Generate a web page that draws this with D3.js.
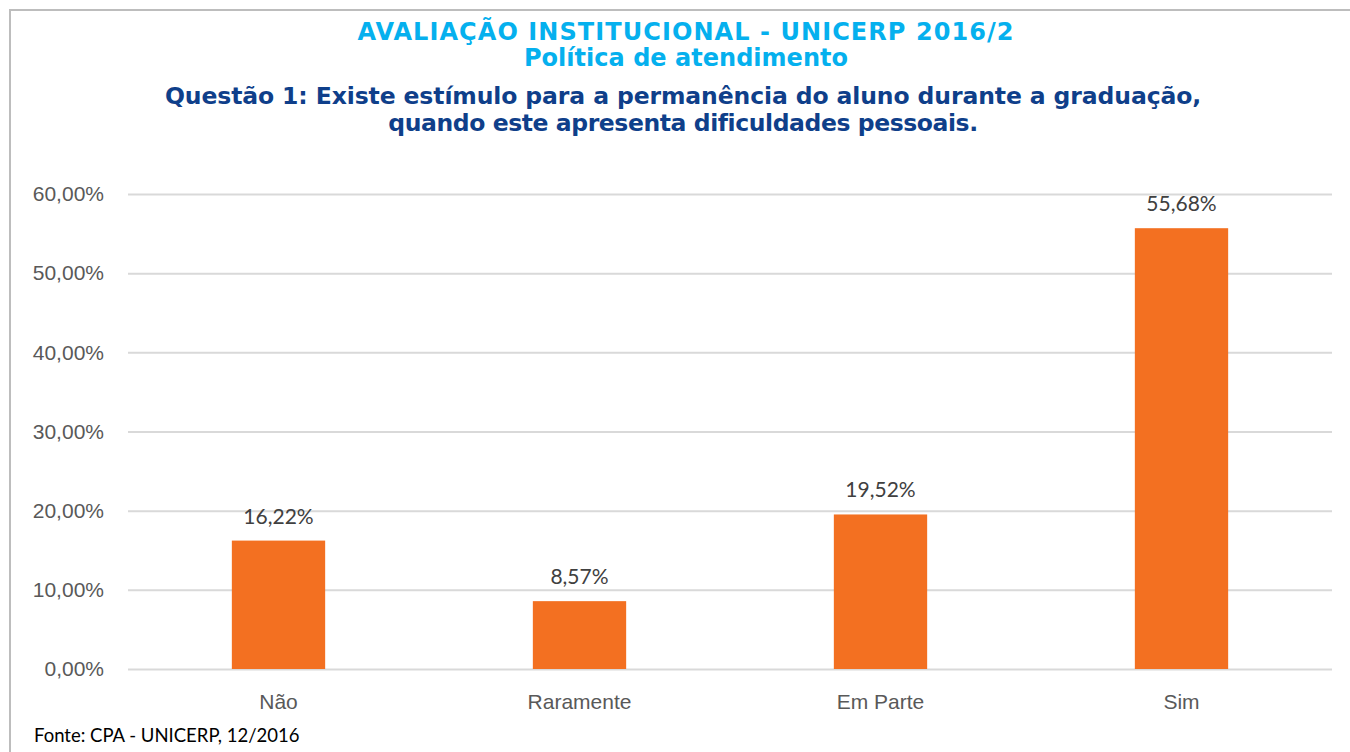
<!DOCTYPE html>
<html>
<head>
<meta charset="utf-8">
<script src="https://cdn.jsdelivr.net/npm/d3@7"></script>
<style>
  body { margin: 0; background: #fff; }
  svg { display: block; }
</style>
</head>
<body>
<div id="chart"></div>
<script>
// chart data
const categories = ["Não", "Raramente", "Em Parte", "Sim"];
const values = [0.1622, 0.0857, 0.1952, 0.5568];
const yTicks = [0, 0.1, 0.2, 0.3, 0.4, 0.5, 0.6];
const titleLines = ["AVALIAÇÃO INSTITUCIONAL - UNICERP 2016/2", "Política de atendimento"];
const questionLines = ["Questão 1: Existe estímulo para a permanência do aluno durante a graduação,", "quando este apresenta dificuldades pessoais."];
const sourceText = "Fonte: CPA - UNICERP, 12/2016";

const W = 1350, H = 752;
const margin = {top: 194, right: 18, bottom: 83, left: 128};
const width = W - margin.left - margin.right;
const height = H - margin.top - margin.bottom;

const pct = d => d3.format(".2f")(d * 100).replace(".", ",") + "%";

const svg = d3.select("#chart").append("svg")
  .attr("width", W)
  .attr("height", H)
  .style("font-family", "Lato, 'Open Sans', sans-serif");

// outer frame (only top and left visible)
svg.append("path")
  .attr("d", "M10," + H + "V10H" + W)
  .attr("fill", "none")
  .attr("stroke", "#bdbdbd")
  .attr("stroke-width", 2);

// nudge letter spacing so a title line has the width it has in the original
function spreadTo(sel, target) {
  sel.each(function(d, i) {
    const len = this.getComputedTextLength();
    const n = this.textContent.length;
    d3.select(this).attr("letter-spacing", ((target[i] - len) / (n - 1)).toFixed(2));
  });
}

// titles
let t = svg.append("g").attr("text-anchor", "middle").style("font-family", "'DejaVu Sans', sans-serif").style("font-weight", "bold");
t.selectAll("text.t1").data(titleLines).enter().append("text")
  .attr("class", "t1")
  .attr("x", 686)
  .attr("y", (d, i) => 40 + i * 26)
  .attr("fill", "#05b0ee")
  .style("font-size", "24px")
  .text(d => d)
  .call(spreadTo, [656, 324]);
t.selectAll("text.t2").data(questionLines).enter().append("text")
  .attr("class", "t2")
  .attr("x", 683)
  .attr("y", (d, i) => 104 + i * 27)
  .attr("fill", "#0f3f8a")
  .style("font-size", "23.5px")
  .text(d => d)
  .call(spreadTo, [1036, 589]);

const g = svg.append("g").attr("transform", "translate(" + margin.left + "," + margin.top + ")");

const x = d3.scaleBand().domain(categories).range([0, width]).paddingInner(0.69).paddingOuter(0.345);
const y = d3.scaleLinear().domain([0, 0.6]).range([height, 0]);

// gridlines + y labels
const yAxis = d3.axisLeft(y).tickValues(yTicks).tickFormat(pct).tickSize(-width).tickPadding(24);
const ya = g.append("g").call(yAxis);
ya.select(".domain").remove();
ya.selectAll("line").attr("stroke", "#d9d9d9").attr("stroke-width", 2);
ya.selectAll("text").attr("fill", "#595959").style("font-size", "21px");

// x labels
const xAxis = d3.axisBottom(x).tickSize(0).tickPadding(25);
const xa = g.append("g").attr("transform", "translate(0," + height + ")").call(xAxis);
xa.select(".domain").remove();
xa.selectAll("text").attr("fill", "#595959").style("font-size", "21px");

// bars
g.selectAll("rect.bar").data(values).enter().append("rect")
  .attr("class", "bar")
  .attr("x", (d, i) => x(categories[i]))
  .attr("y", d => y(d))
  .attr("width", x.bandwidth())
  .attr("height", d => height - y(d))
  .attr("fill", "#f37021");

// value labels
g.selectAll("text.lbl").data(values).enter().append("text")
  .attr("class", "lbl")
  .attr("x", (d, i) => x(categories[i]) + x.bandwidth() / 2)
  .attr("y", d => y(d) - 17)
  .attr("text-anchor", "middle")
  .attr("fill", "#404040")
  .style("font-size", "21px")
  .text(pct);

// source
svg.append("text")
  .attr("x", 34)
  .attr("y", 742)
  .attr("fill", "#000")
  .style("font-size", "18.5px")
  .text(sourceText);
</script>
</body>
</html>
